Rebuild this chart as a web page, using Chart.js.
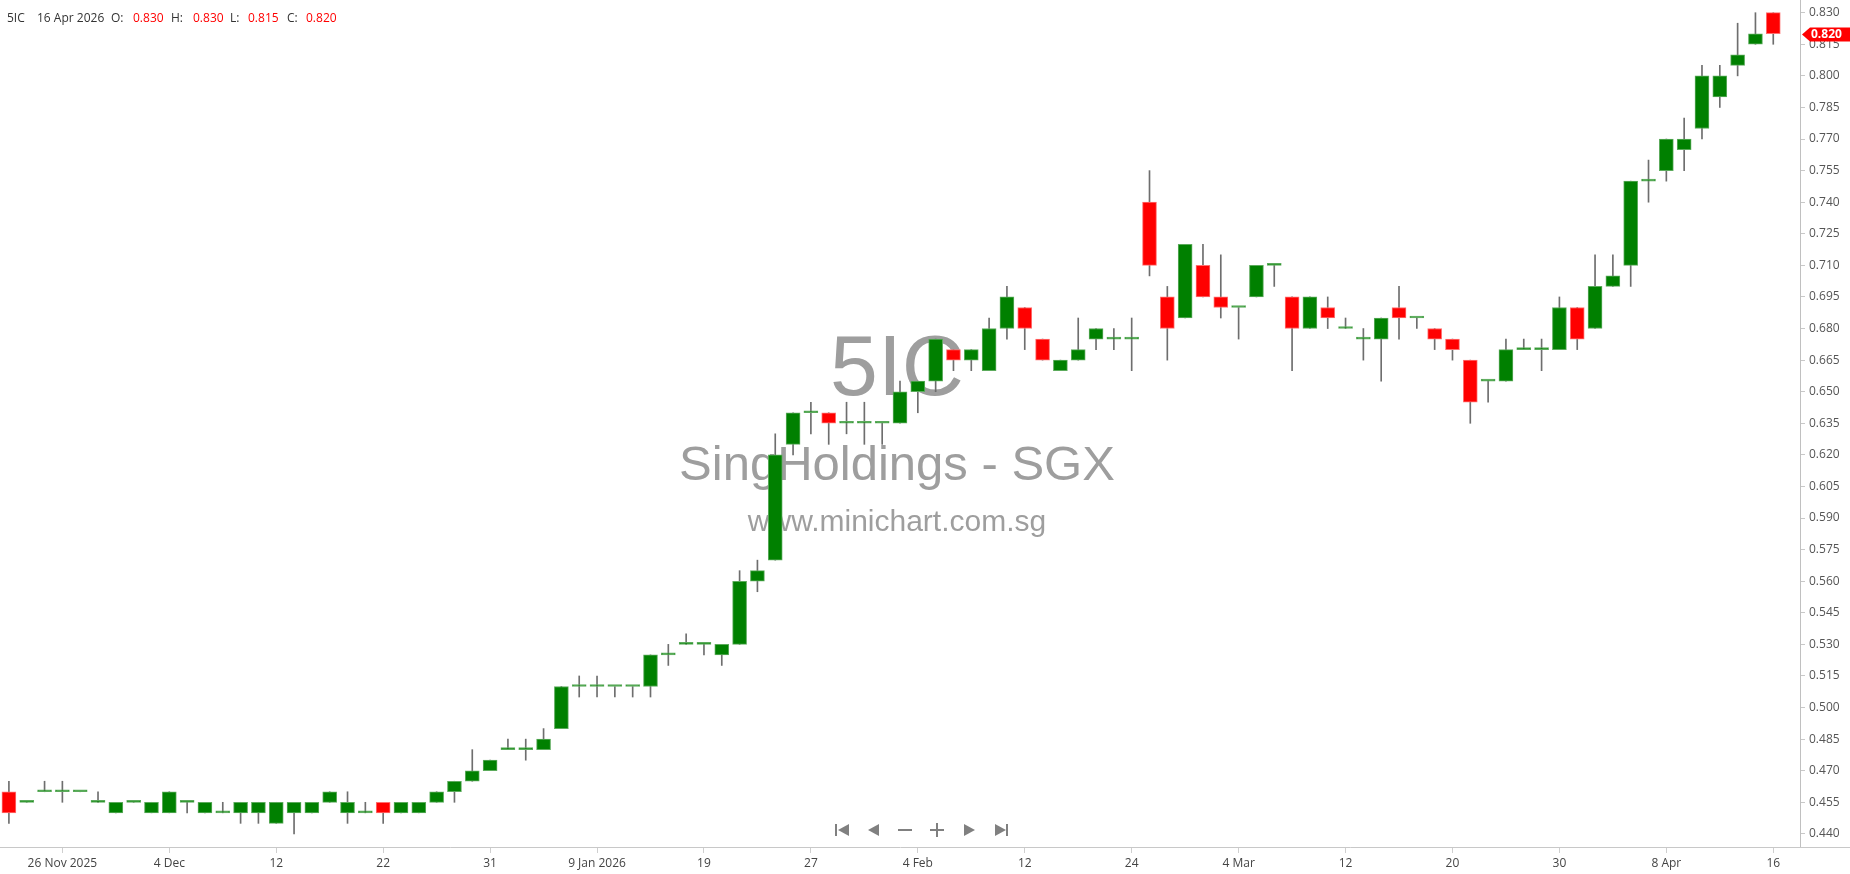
<!DOCTYPE html>
<html>
<head>
<meta charset="utf-8">
<script src="https://cdn.jsdelivr.net/npm/chart.js@4.4.1/dist/chart.umd.min.js"></script>
<style>
  html, body { margin: 0; padding: 0; background: #fff; }
  #wrap { width: 1850px; height: 874px; position: relative; }
</style>
</head>
<body>
<div id="wrap"><canvas id="chart" width="1850" height="874"></canvas></div>
<script>
// 5IC daily candles, 21 Nov 2025 .. 16 Apr 2026 (100 trading days)
const opens = [
  0.460, 0.455, 0.460, 0.460, 0.460, 0.455, 0.450, 0.455, 0.450, 0.450,
  0.455, 0.450, 0.450, 0.450, 0.450, 0.445, 0.450, 0.450, 0.455, 0.450,
  0.450, 0.455, 0.450, 0.450, 0.455, 0.460, 0.465, 0.470, 0.480, 0.480,
  0.480, 0.490, 0.510, 0.510, 0.510, 0.510, 0.510, 0.525, 0.530, 0.530,
  0.525, 0.530, 0.560, 0.570, 0.625, 0.640, 0.640, 0.635, 0.635, 0.635,
  0.635, 0.650, 0.655, 0.670, 0.665, 0.660, 0.680, 0.690, 0.675, 0.660,
  0.665, 0.675, 0.675, 0.675, 0.740, 0.695, 0.685, 0.710, 0.695, 0.690,
  0.695, 0.710, 0.695, 0.680, 0.690, 0.680, 0.675, 0.675, 0.690, 0.685,
  0.680, 0.675, 0.665, 0.655, 0.655, 0.670, 0.670, 0.670, 0.690, 0.680,
  0.700, 0.710, 0.750, 0.755, 0.765, 0.775, 0.790, 0.805, 0.815, 0.830
];
const highs = [
  0.465, 0.455, 0.465, 0.465, 0.460, 0.460, 0.455, 0.455, 0.455, 0.460,
  0.455, 0.455, 0.455, 0.455, 0.455, 0.455, 0.455, 0.455, 0.460, 0.460,
  0.455, 0.455, 0.455, 0.455, 0.460, 0.465, 0.480, 0.475, 0.485, 0.485,
  0.490, 0.510, 0.515, 0.515, 0.510, 0.510, 0.525, 0.530, 0.535, 0.530,
  0.530, 0.565, 0.570, 0.630, 0.640, 0.645, 0.640, 0.645, 0.645, 0.635,
  0.655, 0.655, 0.675, 0.670, 0.670, 0.685, 0.700, 0.690, 0.675, 0.665,
  0.685, 0.680, 0.680, 0.685, 0.755, 0.700, 0.720, 0.720, 0.715, 0.690,
  0.710, 0.710, 0.695, 0.695, 0.695, 0.685, 0.680, 0.685, 0.700, 0.685,
  0.680, 0.675, 0.665, 0.655, 0.675, 0.675, 0.675, 0.695, 0.690, 0.715,
  0.715, 0.750, 0.760, 0.770, 0.780, 0.805, 0.805, 0.825, 0.830, 0.830
];
const lows = [
  0.445, 0.455, 0.460, 0.455, 0.460, 0.455, 0.450, 0.455, 0.450, 0.450,
  0.450, 0.450, 0.450, 0.445, 0.445, 0.445, 0.440, 0.450, 0.455, 0.445,
  0.450, 0.445, 0.450, 0.450, 0.455, 0.455, 0.465, 0.470, 0.480, 0.475,
  0.480, 0.490, 0.505, 0.505, 0.505, 0.505, 0.505, 0.520, 0.530, 0.525,
  0.520, 0.530, 0.555, 0.570, 0.620, 0.630, 0.625, 0.630, 0.625, 0.625,
  0.635, 0.640, 0.650, 0.660, 0.660, 0.660, 0.675, 0.670, 0.665, 0.660,
  0.665, 0.670, 0.670, 0.660, 0.705, 0.665, 0.685, 0.695, 0.685, 0.675,
  0.695, 0.700, 0.660, 0.680, 0.680, 0.680, 0.665, 0.655, 0.675, 0.680,
  0.670, 0.665, 0.635, 0.645, 0.655, 0.670, 0.660, 0.670, 0.670, 0.680,
  0.700, 0.700, 0.740, 0.750, 0.755, 0.770, 0.785, 0.800, 0.815, 0.815
];
const closes = [
  0.450, 0.455, 0.460, 0.460, 0.460, 0.455, 0.455, 0.455, 0.455, 0.460,
  0.455, 0.455, 0.450, 0.455, 0.455, 0.455, 0.455, 0.455, 0.460, 0.455,
  0.450, 0.450, 0.455, 0.455, 0.460, 0.465, 0.470, 0.475, 0.480, 0.480,
  0.485, 0.510, 0.510, 0.510, 0.510, 0.510, 0.525, 0.525, 0.530, 0.530,
  0.530, 0.560, 0.565, 0.620, 0.640, 0.640, 0.635, 0.635, 0.635, 0.635,
  0.650, 0.655, 0.675, 0.665, 0.670, 0.680, 0.695, 0.680, 0.665, 0.665,
  0.670, 0.680, 0.675, 0.675, 0.710, 0.680, 0.720, 0.695, 0.690, 0.690,
  0.710, 0.710, 0.680, 0.695, 0.685, 0.680, 0.675, 0.685, 0.685, 0.685,
  0.675, 0.670, 0.645, 0.655, 0.670, 0.670, 0.670, 0.690, 0.675, 0.700,
  0.705, 0.750, 0.750, 0.770, 0.770, 0.800, 0.800, 0.810, 0.820, 0.820
];

// x axis labels and the candle index they sit under
const tickLabels = ["26 Nov 2025", "4 Dec", "12", "22", "31", "9 Jan 2026", "19", "27",
  "4 Feb", "12", "24", "4 Mar", "12", "20", "30", "8 Apr", "16"];
const tickPos = [3, 9, 15, 21, 27, 33, 39, 45, 51, 57, 63, 69, 75, 81, 87, 93, 99];

const yTicks = [0.440, 0.455, 0.470, 0.485, 0.500, 0.515, 0.530, 0.545, 0.560, 0.575,
  0.590, 0.605, 0.620, 0.635, 0.650, 0.665, 0.680, 0.695, 0.710, 0.725, 0.740,
  0.755, 0.770, 0.785, 0.800, 0.815, 0.830];

const last = opens.length - 1;
const up = closes.map((c, i) => c >= opens[i]);

const overlay = {
  id: "overlay",
  beforeDatasetsDraw(chart) {
    const ctx = chart.ctx;
    ctx.save();
    ctx.fillStyle = "#9e9e9e";
    ctx.textAlign = "center";
    ctx.textBaseline = "alphabetic";
    ctx.font = '86px "Liberation Sans", Arial, sans-serif';
    ctx.fillText("5IC", 897, 395);
    ctx.font = '49px "Liberation Sans", Arial, sans-serif';
    ctx.fillText("SingHoldings - SGX", 897, 480);
    ctx.font = '30px "Liberation Sans", Arial, sans-serif';
    ctx.fillText("www.minichart.com.sg", 897, 531);
    ctx.restore();
  },
  afterDraw(chart) {
    const ctx = chart.ctx;
    const yS = chart.scales.y;
    ctx.save();

    // x axis line runs under the price labels too
    ctx.strokeStyle = "#c8c8c8";
    ctx.lineWidth = 1;
    ctx.beginPath();
    ctx.moveTo(1800, 847.5);
    ctx.lineTo(1850, 847.5);
    ctx.stroke();

    // header line
    ctx.font = '12px "Open Sans", sans-serif';
    ctx.textBaseline = "alphabetic";
    const hdr = [
      ["5IC", 7, "#333"], ["16 Apr 2026", 37, "#333"],
      ["O:", 111, "#333"], [opens[last].toFixed(3), 133, "#ff0000"],
      ["H:", 171, "#333"], [highs[last].toFixed(3), 193, "#ff0000"],
      ["L:", 230, "#333"], [lows[last].toFixed(3), 248, "#ff0000"],
      ["C:", 287, "#333"], [closes[last].toFixed(3), 306, "#ff0000"]
    ];
    hdr.forEach(([t, x, col]) => { ctx.fillStyle = col; ctx.fillText(t, x, 22); });

    // last price tag
    const py = Math.round(yS.getPixelForValue(closes[last])) + 0.5;
    ctx.fillStyle = "#ff0000";
    ctx.beginPath();
    ctx.moveTo(1802, py);
    ctx.lineTo(1810, py - 7);
    ctx.lineTo(1850, py - 7);
    ctx.lineTo(1850, py + 7);
    ctx.lineTo(1810, py + 7);
    ctx.closePath();
    ctx.fill();
    ctx.fillStyle = "#fff";
    ctx.font = 'bold 12px "Open Sans", sans-serif';
    ctx.textBaseline = "middle";
    ctx.fillText(closes[last].toFixed(3), 1811, py);

    // navigation buttons
    ctx.fillStyle = "#808080";
    const tri = (a, b, c) => { ctx.beginPath(); ctx.moveTo(...a); ctx.lineTo(...b); ctx.lineTo(...c); ctx.closePath(); ctx.fill(); };
    ctx.fillRect(835, 824, 2, 12);
    tri([849, 824], [849, 836], [838, 830]);
    tri([879, 824], [879, 836], [868, 830]);
    ctx.fillRect(898, 829, 14, 2);
    ctx.fillRect(930, 829, 14, 2);
    ctx.fillRect(936, 823, 2, 14);
    tri([964, 824], [964, 836], [975, 830]);
    tri([995, 824], [995, 836], [1006, 830]);
    ctx.fillRect(1006, 824, 2, 12);
    ctx.restore();
  }
};

new Chart(document.getElementById("chart").getContext("2d"), {
  type: "bar",
  data: {
    datasets: [
      {
        data: opens.map((o, i) => ({ x: i, y: [o, closes[i]] })),
        backgroundColor: up.map(u => u ? "#008000" : "#ff0000"),
        borderColor: up.map(u => u ? "#5cab5c" : "#ff7070"),
        borderWidth: 1,
        borderSkipped: false,
        barThickness: 14,
        minBarLength: 2,
        grouped: false
      },
      {
        data: highs.map((h, i) => ({ x: i, y: [lows[i], h] })),
        backgroundColor: "#6e6e6e",
        borderWidth: 0,
        barThickness: 1,
        grouped: false
      }
    ]
  },
  options: {
    responsive: false,
    animation: false,
    layout: { padding: 0 },
    plugins: { legend: { display: false }, tooltip: { enabled: false } },
    scales: {
      x: {
        type: "linear",
        min: -0.5,
        max: 100.5,
        offset: false,
        afterBuildTicks: s => { s.ticks = tickPos.map(v => ({ value: v })); },
        afterFit: s => { s.height = 27; s.paddingLeft = 0; s.paddingRight = 0; },
        ticks: {
          autoSkip: false,
          maxRotation: 0,
          padding: 3,
          color: "#444",
          font: { family: "Open Sans", size: 12 },
          callback: (v, i) => tickLabels[i]
        },
        grid: { offset: false, drawOnChartArea: false, tickLength: 6, color: "#cfcfcf" },
        border: { color: "#c8c8c8" }
      },
      y: {
        position: "right",
        min: 0.43377,
        max: 0.83603,
        afterBuildTicks: s => { s.ticks = yTicks.map(v => ({ value: v })); },
        afterFit: s => { s.width = 50; s.paddingTop = 0; s.paddingBottom = 0; },
        ticks: {
          padding: 4,
          color: "#555",
          font: { family: "Open Sans", size: 12 },
          callback: v => v.toFixed(3)
        },
        grid: { drawOnChartArea: false, tickLength: 5, color: "#c8c8c8" },
        border: { color: "#c0c0c0" }
      }
    }
  },
  plugins: [overlay]
});
</script>
</body>
</html>
